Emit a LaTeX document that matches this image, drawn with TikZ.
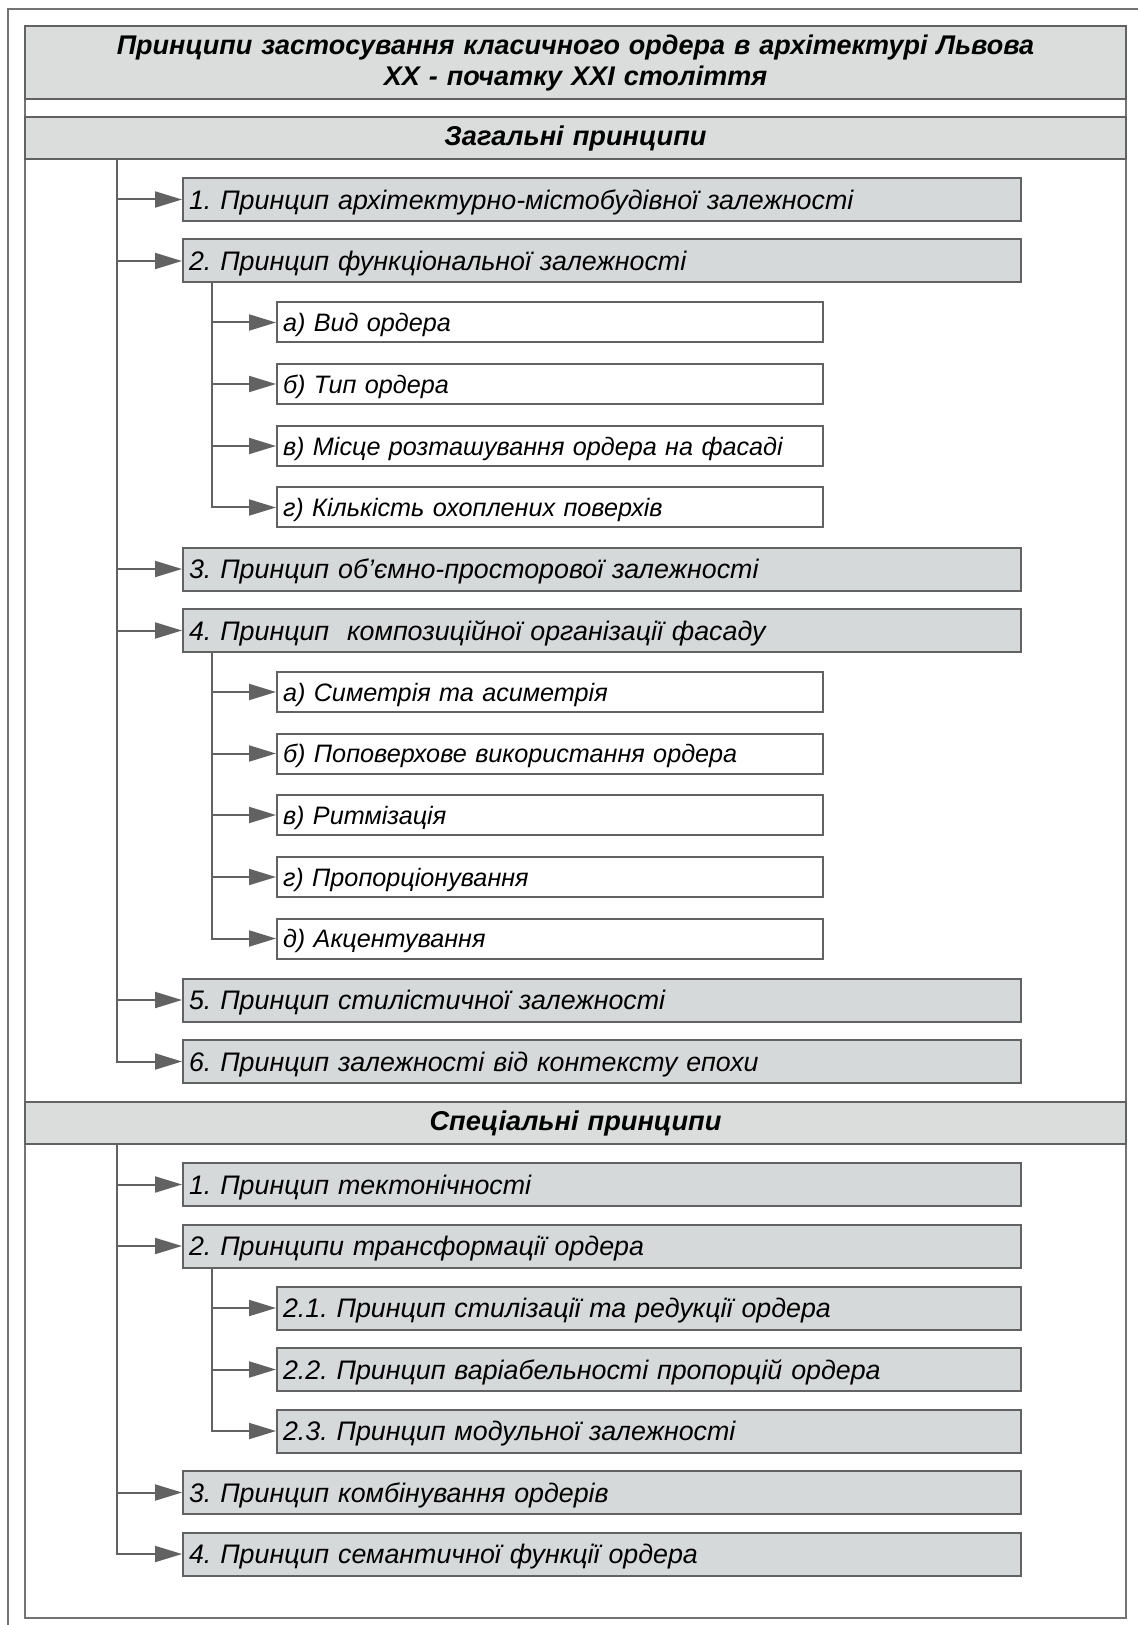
\documentclass[tikz,border=0pt]{standalone}
\usepackage{fontspec}
\setmainfont{Liberation Sans}
\usetikzlibrary{arrows.meta}
\definecolor{boxgrey}{RGB}{214,217,217}
\definecolor{bandgrey}{RGB}{219,221,221}
\definecolor{linegrey}{RGB}{98,98,98}
\definecolor{framegrey}{RGB}{115,115,115}
\frenchspacing

\begin{document}
\begin{tikzpicture}[
  x=0.5pt, y=-0.5pt,
  entry/.style={draw=linegrey, line width=1pt, anchor=west, align=left, inner xsep=3pt, inner ysep=0pt,
    text height=11.3pt, text depth=1.5pt, font=\fontsize{13.4}{16}\selectfont\itshape},
  main/.style={entry, fill=boxgrey, text width=413pt, minimum height=21.5pt},
  sub/.style={entry, fill=white, text width=267pt, minimum height=20pt, text height=10.6pt,
    font=\fontsize{12.6}{15}\selectfont\itshape},
  subgrey/.style={entry, fill=boxgrey, text width=366pt, minimum height=21.5pt},
  band/.style={draw=linegrey, line width=1pt, fill=bandgrey, align=center, inner sep=0pt, text width=550.5pt,
    minimum height=21pt, font=\fontsize{13.6}{16}\selectfont\bfseries\itshape},
  frame/.style={draw=framegrey, line width=1pt},
  arr/.style={draw=linegrey, line width=1pt, -{Triangle[length=13.5pt, width=8pt]}}
]
  \useasboundingbox (0,0) rectangle (1137,1625);

  % frames
  \draw[frame] (8,1632) -- (8,9) -- (1145,9);
  \draw[frame] (25,26) rectangle (1126,1618);

  % headings
  \node[band, minimum height=36.5pt, font=\fontsize{13.5}{15.5}\selectfont\bfseries\itshape] (title) at (575.5,63)
    {Принципи застосування класичного ордера в архітектурі Львова\\XX - початку XXI століття};
  \node[band] (gen) at (575.5,138) {Загальні принципи};
  \node[band] (spec) at (575.5,1123) {Спеціальні принципи};

  % general principles
  \node[main] (g1) at (182,199.5) {1. Принцип архітектурно-містобудівної залежності};
  \node[main] (g2) at (182,261) {2. Принцип функціональної залежності};
  \node[sub] (ga1) at (276,322.5) {а) Вид ордера};
  \node[sub] (ga2) at (276,384) {б) Тип ордера};
  \node[sub] (ga3) at (276,446) {в) Місце розташування ордера на фасаді};
  \node[sub] (ga4) at (276,507.5) {г) Кількість охоплених поверхів};
  \node[main] (g3) at (182,569) {3. Принцип об'ємно-просторової залежності};
  \node[main] (g4) at (182,630.5) {4. Принцип\ \ композиційної організації фасаду};
  \node[sub] (gb1) at (276,692) {а) Симетрія та асиметрія};
  \node[sub] (gb2) at (276,753.5) {б) Поповерхове використання ордера};
  \node[sub] (gb3) at (276,815) {в) Ритмізація};
  \node[sub] (gb4) at (276,877) {г) Пропорціонування};
  \node[sub] (gb5) at (276,938.5) {д) Акцентування};
  \node[main] (g5) at (182,1000) {5. Принцип стилістичної залежності};
  \node[main] (g6) at (182,1061.5) {6. Принцип залежності від контексту епохи};

  % special principles
  \node[main] (s1) at (182,1184.5) {1. Принцип тектонічності};
  \node[main] (s2) at (182,1246) {2. Принципи трансформації ордера};
  \node[subgrey] (s21) at (276,1308) {2.1. Принцип стилізації та редукції ордера};
  \node[subgrey] (s22) at (276,1369.5) {2.2. Принцип варіабельності пропорцій ордера};
  \node[subgrey] (s23) at (276,1431) {2.3. Принцип модульної залежності};
  \node[main] (s3) at (182,1492.5) {3. Принцип комбінування ордерів};
  \node[main] (s4) at (182,1554) {4. Принцип семантичної функції ордера};

  \coordinate (gt) at ([xshift=46.5pt]gen.south west);
  \coordinate (gat) at ([xshift=15pt]g2.south west);
  \coordinate (gbt) at ([xshift=15pt]g4.south west);
  \coordinate (st) at ([xshift=46.5pt]spec.south west);
  \coordinate (sat) at ([xshift=15pt]s2.south west);

  \draw[arr] (gt |- g1) -- (g1);
  \draw[arr] (gt |- g2) -- (g2);
  \draw[arr] (gt |- g3) -- (g3);
  \draw[arr] (gt |- g4) -- (g4);
  \draw[arr] (gt |- g5) -- (g5);
  \draw[arr] (gt) |- (g6);

  \draw[arr] (gat |- ga1) -- (ga1);
  \draw[arr] (gat |- ga2) -- (ga2);
  \draw[arr] (gat |- ga3) -- (ga3);
  \draw[arr] (gat) |- (ga4);

  \draw[arr] (gbt |- gb1) -- (gb1);
  \draw[arr] (gbt |- gb2) -- (gb2);
  \draw[arr] (gbt |- gb3) -- (gb3);
  \draw[arr] (gbt |- gb4) -- (gb4);
  \draw[arr] (gbt) |- (gb5);

  \draw[arr] (st |- s1) -- (s1);
  \draw[arr] (st |- s2) -- (s2);
  \draw[arr] (st |- s3) -- (s3);
  \draw[arr] (st) |- (s4);

  \draw[arr] (sat |- s21) -- (s21);
  \draw[arr] (sat |- s22) -- (s22);
  \draw[arr] (sat) |- (s23);
\end{tikzpicture}
\end{document}
